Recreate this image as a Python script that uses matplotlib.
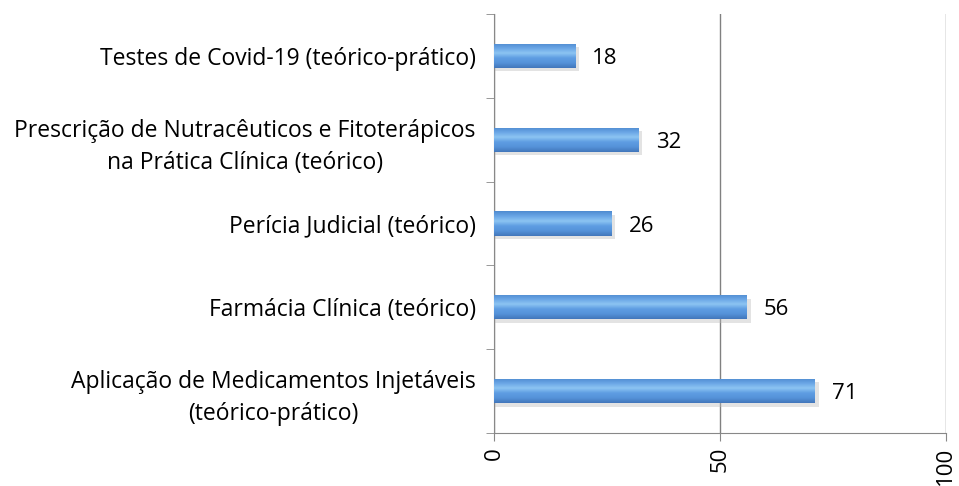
import numpy as np
import matplotlib.pyplot as plt
from matplotlib.colors import LinearSegmentedColormap

categories = [
    "Aplicação de Medicamentos Injetáveis\n(teórico-prático)",
    "Farmácia Clínica (teórico)",
    "Perícia Judicial (teórico)",
    "Prescrição de Nutracêuticos e Fitoterápicos\nna Prática Clínica (teórico)",
    "Testes de Covid-19 (teórico-prático)",
]
values = [71, 56, 26, 32, 18]
xticks = [0, 50, 100]

plt.rcParams['font.family'] = ['Open Sans', 'DejaVu Sans']

fig = plt.figure(figsize=(9.59, 4.86), dpi=100)
ax = fig.add_axes([0.515, 0.109, 0.471, 0.862])

y = np.arange(len(categories))
bar_h = 0.29

# gradiente azul (topo claro, base escura)
cmap = LinearSegmentedColormap.from_list(
    "azul", ["#4277bb", "#5592d9", "#5e9de2", "#8cc4f2", "#6aa6e6", "#4f8bd0"])
grad = np.linspace(0, 1, 64).reshape(-1, 1)

bars = ax.barh(y, values, height=bar_h, color="#5b9bd5", edgecolor="none", zorder=3)
for b in bars:
    # sombra
    ax.barh(b.get_y() + b.get_height() / 2 - 0.04, b.get_width() + 0.6, height=bar_h,
            left=0.3, color="#bbbbbb", alpha=0.4, edgecolor="none", zorder=2)
    x0, y0 = b.get_x(), b.get_y()
    im = ax.imshow(grad, cmap=cmap, aspect="auto", zorder=4,
                   extent=[x0, x0 + b.get_width(), y0, y0 + b.get_height()],
                   origin="lower")
    im.set_clip_path(b)

for yi, v in zip(y, values):
    ax.text(v + 3.8, yi - 0.03, str(v), va="center", ha="left", fontsize=16, color="black")

ax.set_xlim(0, 100)
ax.set_ylim(-0.5, len(categories) - 0.5)
ax.set_xticks(xticks)
ax.set_xticklabels([str(t) for t in xticks], rotation=90, fontsize=16)
ax.set_yticks(y)
ax.set_yticklabels(categories, fontsize=16.5, linespacing=1.45)
ax.set_yticks(np.arange(-0.5, len(categories), 1), minor=True)
ax.tick_params(axis="y", which="major", length=0, pad=13)
ax.tick_params(axis="y", which="minor", length=6, color="#888888")
ax.tick_params(axis="x", length=6, color="#888888", pad=4)

for lab in ax.get_yticklabels():
    lab.set_multialignment("center")

ax.xaxis.grid(True, color="#808080", linewidth=1, zorder=0)
ax.set_axisbelow(True)
for s in ["top", "right"]:
    ax.spines[s].set_visible(False)
for s in ["left", "bottom"]:
    ax.spines[s].set_color("#888888")

fig.savefig("out.png", dpi=100)
